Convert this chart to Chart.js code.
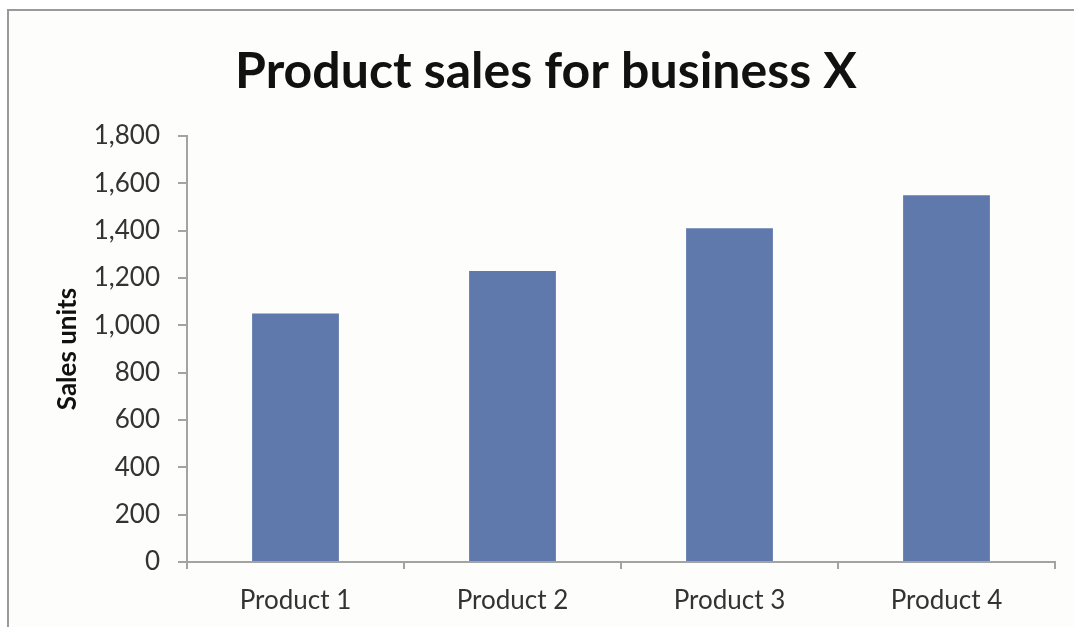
<!DOCTYPE html>
<html>
<head>
<meta charset="utf-8">
<script src="https://cdn.jsdelivr.net/npm/chart.js@4.4.1/dist/chart.umd.min.js"></script>
<style>
  html, body { margin: 0; padding: 0; background: #ffffff; }
  #wrap { width: 1074px; height: 627px; position: relative; }
</style>
</head>
<body>
<div id="wrap"><canvas id="c" width="1074" height="627"></canvas></div>
<script>
// Chart data
const categories = ['Product 1', 'Product 2', 'Product 3', 'Product 4'];
const salesUnits = [1050, 1230, 1410, 1550];
const yMin = 0;
const yMax = 1800;
const yStep = 200;

const chartTitle = 'Product sales for business X';
const yAxisTitle = 'Sales units';

const FONT = 'Lato, "Open Sans", "DejaVu Sans", sans-serif';
const AXIS_GREY = '#a3a3a3';

// Outer frame of the chart object (top and left edges)
const framePlugin = {
  id: 'frame',
  beforeDraw(chart) {
    const ctx = chart.ctx;
    ctx.save();
    ctx.fillStyle = '#ffffff';
    ctx.fillRect(0, 0, chart.width, chart.height);
    ctx.fillStyle = '#fdfdfb';
    ctx.fillRect(9, 11, chart.width - 9, chart.height - 11);
    ctx.strokeStyle = '#9a9a9a';
    ctx.lineWidth = 2;
    ctx.beginPath();
    ctx.moveTo(8, chart.height);
    ctx.lineTo(8, 10);
    ctx.lineTo(chart.width, 10);
    ctx.stroke();
    ctx.restore();
  }
};

new Chart(document.getElementById('c'), {
  type: 'bar',
  data: {
    labels: categories,
    datasets: [{
      label: yAxisTitle,
      data: salesUnits,
      backgroundColor: '#5f79ac',
      borderWidth: 0,
      categoryPercentage: 1.0,
      barPercentage: 0.4
    }]
  },
  options: {
    responsive: false,
    animation: false,
    devicePixelRatio: 1,
    layout: { padding: { left: 18, right: 0, top: 0, bottom: 0 } },
    plugins: {
      legend: { display: false },
      tooltip: { enabled: false },
      title: {
        display: true,
        text: chartTitle,
        color: '#111111',
        font: { family: FONT, size: 50, weight: 'bold', lineHeight: 1.2 },
        padding: { top: 42, bottom: 34 }
      }
    },
    scales: {
      x: {
        grid: {
          display: true,
          offset: true,
          drawOnChartArea: false,
          drawTicks: true,
          tickLength: 7,
          color: AXIS_GREY,
          lineWidth: 2
        },
        border: { display: true, color: AXIS_GREY, width: 2 },
        ticks: {
          color: '#333333',
          font: { family: FONT, size: 26 },
          padding: 16,
          maxRotation: 0
        },
        afterFit(scale) { scale.height = 65; }
      },
      y: {
        min: yMin,
        max: yMax,
        grid: {
          display: true,
          drawOnChartArea: false,
          drawTicks: true,
          tickLength: 9,
          color: AXIS_GREY,
          lineWidth: 2
        },
        border: { display: true, color: AXIS_GREY, width: 2 },
        ticks: {
          stepSize: yStep,
          color: '#333333',
          font: { family: FONT, size: 26 },
          padding: 18,
          callback: (v) => v.toLocaleString('en-US')
        },
        title: {
          display: true,
          text: yAxisTitle,
          color: '#111111',
          font: { family: FONT, size: 26, weight: 'bold', lineHeight: 1.2 },
          padding: { top: 34, bottom: 0 }
        },
        afterFit(scale) { scale.width = 169; }
      },
      // empty right-hand margin beside the plot area
      yRight: {
        position: 'right',
        display: true,
        min: yMin,
        max: yMax,
        grid: { display: false },
        border: { display: false },
        ticks: { display: false },
        afterFit(scale) { scale.width = 19; }
      }
    }
  },
  plugins: [framePlugin]
});
</script>
</body>
</html>
